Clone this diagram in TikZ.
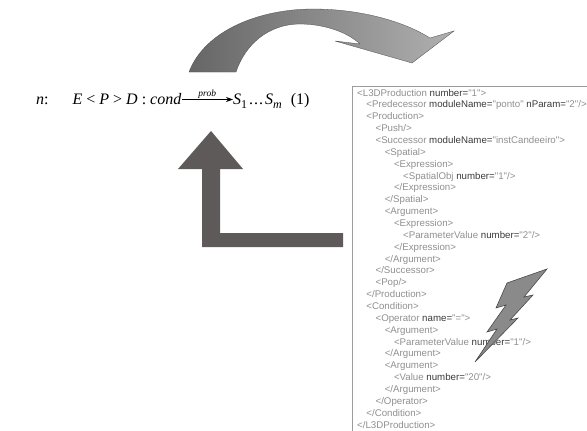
\documentclass[tikz,border=0pt]{standalone}
\usepackage{fontspec}
\setmainfont{Liberation Serif}
\newfontfamily\xmlfont{Liberation Sans}
\usetikzlibrary{arrows.meta}
\definecolor{xmlgray}{HTML}{909090}
\definecolor{xmldark}{HTML}{3A3A3A}
\definecolor{boxline}{HTML}{9C9C9C}
\definecolor{larrow}{HTML}{5E5A59}
\definecolor{curvedark}{HTML}{666666}
\definecolor{curvelight}{HTML}{B0B0B0}
\definecolor{boltfill}{HTML}{8A8A8A}
\definecolor{boltline}{HTML}{4A4A4A}
\newcommand\xa[1]{\textcolor{xmldark}{#1}}
\newcommand\sbs[1]{\raisebox{-0.28em}{\fontsize{12}{12}\selectfont #1}}
\begin{document}
\begin{tikzpicture}[x=1pt,y=-1pt,
  xml/.style={anchor=base west, inner sep=0pt, font=\xmlfont\fontsize{9.7}{10}\selectfont, text=xmlgray},
  formula/.style={anchor=base west, inner sep=0pt, font=\fontsize{16}{18}\selectfont},
  problabel/.style={font=\fontsize{9.5}{10}\selectfont\itshape, inner sep=1pt},
  relarrow/.style={-{Stealth[length=7pt,width=5pt]}, line width=0.6pt},
  boxedge/.style={draw=boxline, line width=1pt}]
\useasboundingbox (0,0) rectangle (587,431);
\fill[white] (0,0) rectangle (587,431);

% curved arrow
\shade[left color=curvedark, right color=curvelight, draw=gray!60!black, line width=0.3pt]
  (189,72) .. controls (205,30) and (260,9) .. (313,9)
  .. controls (362,9) and (405,22) .. (430,38)
  -- (454,31) -- (412,63) -- (335,41) -- (360,44)
  .. controls (345,30) and (320,24) .. (300,24)
  .. controls (268,24) and (245,45) .. (236,72)
  -- cycle;

% formula
\node[formula] (lhs) at (36,104) {\textit{n}:\hspace{24pt}\textit{E} < \textit{P} > \textit{D} : \textit{cond}};
\node[formula] (rhs) at (233,104) {\textit{S}\sbs{1}\hspace{2pt}.\hspace{1pt}.\hspace{1pt}.\hspace{2pt}\textit{S}\sbs{\textit{m}}\hspace{9pt}(1)};
\draw[relarrow] ([yshift=4.5pt]lhs.base east) -- node[problabel, above] (prob) {prob} ([yshift=4.5pt]rhs.base west);

% L-shaped arrow
\fill[larrow] (211,131) -- (243,169) -- (220,169) -- (220,233) -- (343,233)
  -- (343,247) -- (202,247) -- (202,169) -- (178,169) -- cycle;

% XML box
\draw[boxedge] (352,431) -- (352,86) -- (587,86);

\foreach \lvl/\txt [count=\i] in {
 0/{<L3DProduction \xa{number=}"1">},
 1/{<Predecessor \xa{moduleName=}"ponto" \xa{nParam=}"2"/>},
 1/{<Production>},
 2/{<Push/>},
 2/{<Successor \xa{moduleName=}"instCandeeiro">},
 3/{<Spatial>},
 4/{<Expression>},
 5/{<SpatialObj \xa{number=}"1"/>},
 4/{</Expression>},
 3/{</Spatial>},
 3/{<Argument>},
 4/{<Expression>},
 5/{<ParameterValue \xa{number=}"2"/>},
 4/{</Expression>},
 3/{</Argument>},
 2/{</Successor>},
 2/{<Pop/>},
 1/{</Production>},
 1/{<Condition>},
 2/{<Operator \xa{name=}"=">},
 3/{<Argument>},
 4/{<ParameterValue \xa{number=}"1"/>},
 3/{</Argument>},
 3/{<Argument>},
 4/{<Value \xa{number=}"20"/>},
 3/{</Argument>},
 2/{</Operator>},
 1/{</Condition>},
 0/{</L3DProduction>}} {
  \node[xml] (x\i) at ({357+9.2*\lvl},{96+11.86*(\i-1)}) {\txt};
}

% lightning bolt
\filldraw[fill=boltfill, draw=boltline, line width=0.6pt, line join=miter]
  (547,269) -- (507,283) -- (496,308) -- (506,305) -- (487,332) -- (497,329)
  -- (475,362) -- (518,318) -- (510,320) -- (533,295) -- (524,297) -- cycle;
\end{tikzpicture}
\end{document}
